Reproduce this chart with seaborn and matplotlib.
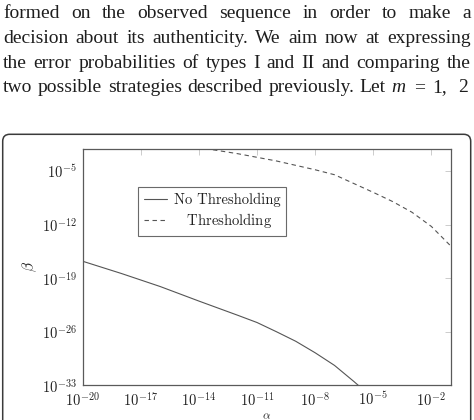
import numpy as np
import pandas as pd
import matplotlib
matplotlib.use('Agg')
import matplotlib.pyplot as plt
import seaborn as sns
from matplotlib.patches import FancyBboxPatch
from matplotlib.ticker import FixedLocator, FuncFormatter, NullLocator

# ---------------- data (base-10 exponents) ----------------
no_thr_log_alpha = [-20, -18, -16, -14, -12, -11, -10, -9, -8, -7, -6, -5.5]
no_thr_log_beta = [-16.8, -18.4, -20.1, -22.0, -23.85, -24.8, -26.0, -27.25, -28.75, -30.4, -32.5, -33.6]
thr_log_alpha = [-14.5, -12, -10, -8, -7, -6, -5, -4, -3, -2, -1]
thr_log_beta = [-1.75, -2.75, -3.7, -4.85, -5.5, -6.65, -7.8, -9.0, -10.4, -12.25, -14.8]
series_labels = ['No Thresholding', 'Thresholding']
x_tick_exps = [-20, -17, -14, -11, -8, -5, -2]
y_tick_exps = [-33, -26, -19, -12, -5]
x_label = r'$\alpha$'
y_label = r'$\beta$'
paragraph_lines = [
    "formed on the observed sequence in order to make a",
    "decision about its authenticity. We aim now at expressing",
    "the error probabilities of types I and II and comparing the",
    "two possible strategies described previously. Let m = 1, 2",
]

# ---------------- style ----------------
sns.set_style('white')
plt.rcParams['mathtext.fontset'] = 'cm'
plt.rcParams['font.family'] = ['DejaVu Sans']

W, H = 474, 420
fig = plt.figure(figsize=(W / 100, H / 100), dpi=100)
fig.patch.set_facecolor('white')


def fx(px):
    return px / W


def fy(py):
    return 1 - py / H


# ---------------- paragraph (justified) ----------------
renderer = fig.canvas.get_renderer()
baselines = [18.3, 43.3, 68.3, 92.0]
rights = [470.7, 470.7, 470.7, 468.3]
left_px = 3.0
fixed_after = {'m': 8.0, '=': 8.0, '1,': 11.0}
for li, (line, yb, rpx) in enumerate(zip(paragraph_lines, baselines, rights)):
    words = line.split(' ')
    last = li == len(paragraph_lines) - 1
    texts = []
    for w in words:
        italic = last and w == 'm'
        t = fig.text(0, fy(yb), w, fontsize=14, family='Liberation Serif',
                     style='italic' if italic else 'normal', color='#1e1e1e',
                     va='baseline', ha='left')
        texts.append(t)
    widths = [t.get_window_extent(renderer).width for t in texts]
    gaps_fixed = []
    for i, w in enumerate(words[:-1]):
        if last and i >= words.index('m') and w in fixed_after:
            gaps_fixed.append(fixed_after[w])
        else:
            gaps_fixed.append(None)
    fixed_total = sum(g for g in gaps_fixed if g is not None)
    n_stretch = sum(1 for g in gaps_fixed if g is None)
    stretch = (rpx - left_px - sum(widths) - fixed_total) / max(n_stretch, 1)
    x = left_px
    for i, t in enumerate(texts):
        t.set_x(fx(x))
        x += widths[i]
        if i < len(gaps_fixed):
            x += gaps_fixed[i] if gaps_fixed[i] is not None else stretch

# ---------------- rounded frame ----------------
frame = FancyBboxPatch((2.7 / 100, -0.3), (470.7 - 2.7) / 100, (H - 134.3) / 100 + 0.3,
                       boxstyle='round,pad=0,rounding_size=0.07',
                       transform=fig.dpi_scale_trans, facecolor='none',
                       edgecolor='#3a3a3a', linewidth=1.1, clip_on=False)
fig.add_artist(frame)

# ---------------- axes ----------------
ax_l, ax_r, ax_t, ax_b = 82.7, 450.7, 148.7, 385.3
ax = fig.add_axes([fx(ax_l), fy(ax_b), (ax_r - ax_l) / W, (ax_b - ax_t) / H])
ax.set_facecolor('white')

df = pd.DataFrame({
    'alpha': np.concatenate([10.0 ** np.array(no_thr_log_alpha), 10.0 ** np.array(thr_log_alpha)]),
    'beta': np.concatenate([10.0 ** np.array(no_thr_log_beta), 10.0 ** np.array(thr_log_beta)]),
    'strategy': [series_labels[0]] * len(no_thr_log_alpha) + [series_labels[1]] * len(thr_log_alpha),
})

ax.set_xscale('log')
ax.set_yscale('log')
sns.lineplot(data=df, x='alpha', y='beta', style='strategy', style_order=series_labels,
             dashes={series_labels[0]: '', series_labels[1]: (4, 3.2)},
             color='#555555', linewidth=0.8, estimator=None, legend=False, ax=ax)

ax.set_xlim(1e-20, 10 ** -1.0)
ax.set_ylim(1e-33, 10 ** -2.1)

ax.xaxis.set_major_locator(FixedLocator([10.0 ** e for e in x_tick_exps]))
ax.yaxis.set_major_locator(FixedLocator([10.0 ** e for e in y_tick_exps]))
ax.xaxis.set_minor_locator(NullLocator())
ax.yaxis.set_minor_locator(NullLocator())
fmt = FuncFormatter(lambda v, p: r'$10^{%d}$' % int(round(np.log10(v))))
ax.xaxis.set_major_formatter(fmt)
ax.yaxis.set_major_formatter(fmt)
ax.tick_params(which='major', direction='in', length=4.5, width=0.6, color='#c4c4c4',
               top=True, right=True, labelsize=10.5, labelcolor='#222222')
ax.tick_params(axis='x', pad=4)
ax.tick_params(axis='y', pad=4.5)

for s in ax.spines.values():
    s.set_color('#5a5a5a')
    s.set_linewidth(0.9)

ax.set_ylabel(y_label, fontsize=11, labelpad=2, color='#222222')
ax.grid(False)

# ---------------- legend ----------------
handles = ax.lines[:2]
leg = ax.legend(handles, [series_labels[0], r'$\quad$' + series_labels[1]],
                loc='upper left', bbox_to_anchor=(fx(138.3), fy(186.7)),
                bbox_transform=fig.transFigure, borderaxespad=0,
                prop={'family': 'cmr10', 'size': 10.5}, frameon=True, fancybox=False,
                edgecolor='#6a6a6a', framealpha=1, handlelength=1.6,
                handletextpad=0.45, borderpad=0.4, labelspacing=0.32)
leg.get_frame().set_linewidth(0.8)
for t in leg.get_texts():
    t.set_color('#222222')

# ---------------- x label placed just under the tick labels, inside the figure ----------------
ax.set_xlabel(x_label, fontsize=10.5, color='#222222')
fig.canvas.draw()
tick_bottom = min(t.get_window_extent(renderer).y0
                  for t in ax.get_xticklabels() if t.get_text())
inv = ax.transAxes.inverted()
for fs in [10.5, 10, 9.5, 9, 8.5]:
    ax.xaxis.label.set_fontsize(fs)
    y_top_axes = inv.transform((0, tick_bottom - 0.8))[1]
    ax.xaxis.set_label_coords(0.5, y_top_axes)
    fig.canvas.draw()
    if ax.xaxis.label.get_window_extent(renderer).y0 >= 0.8:
        break

fig.savefig('out.png', dpi=100)
